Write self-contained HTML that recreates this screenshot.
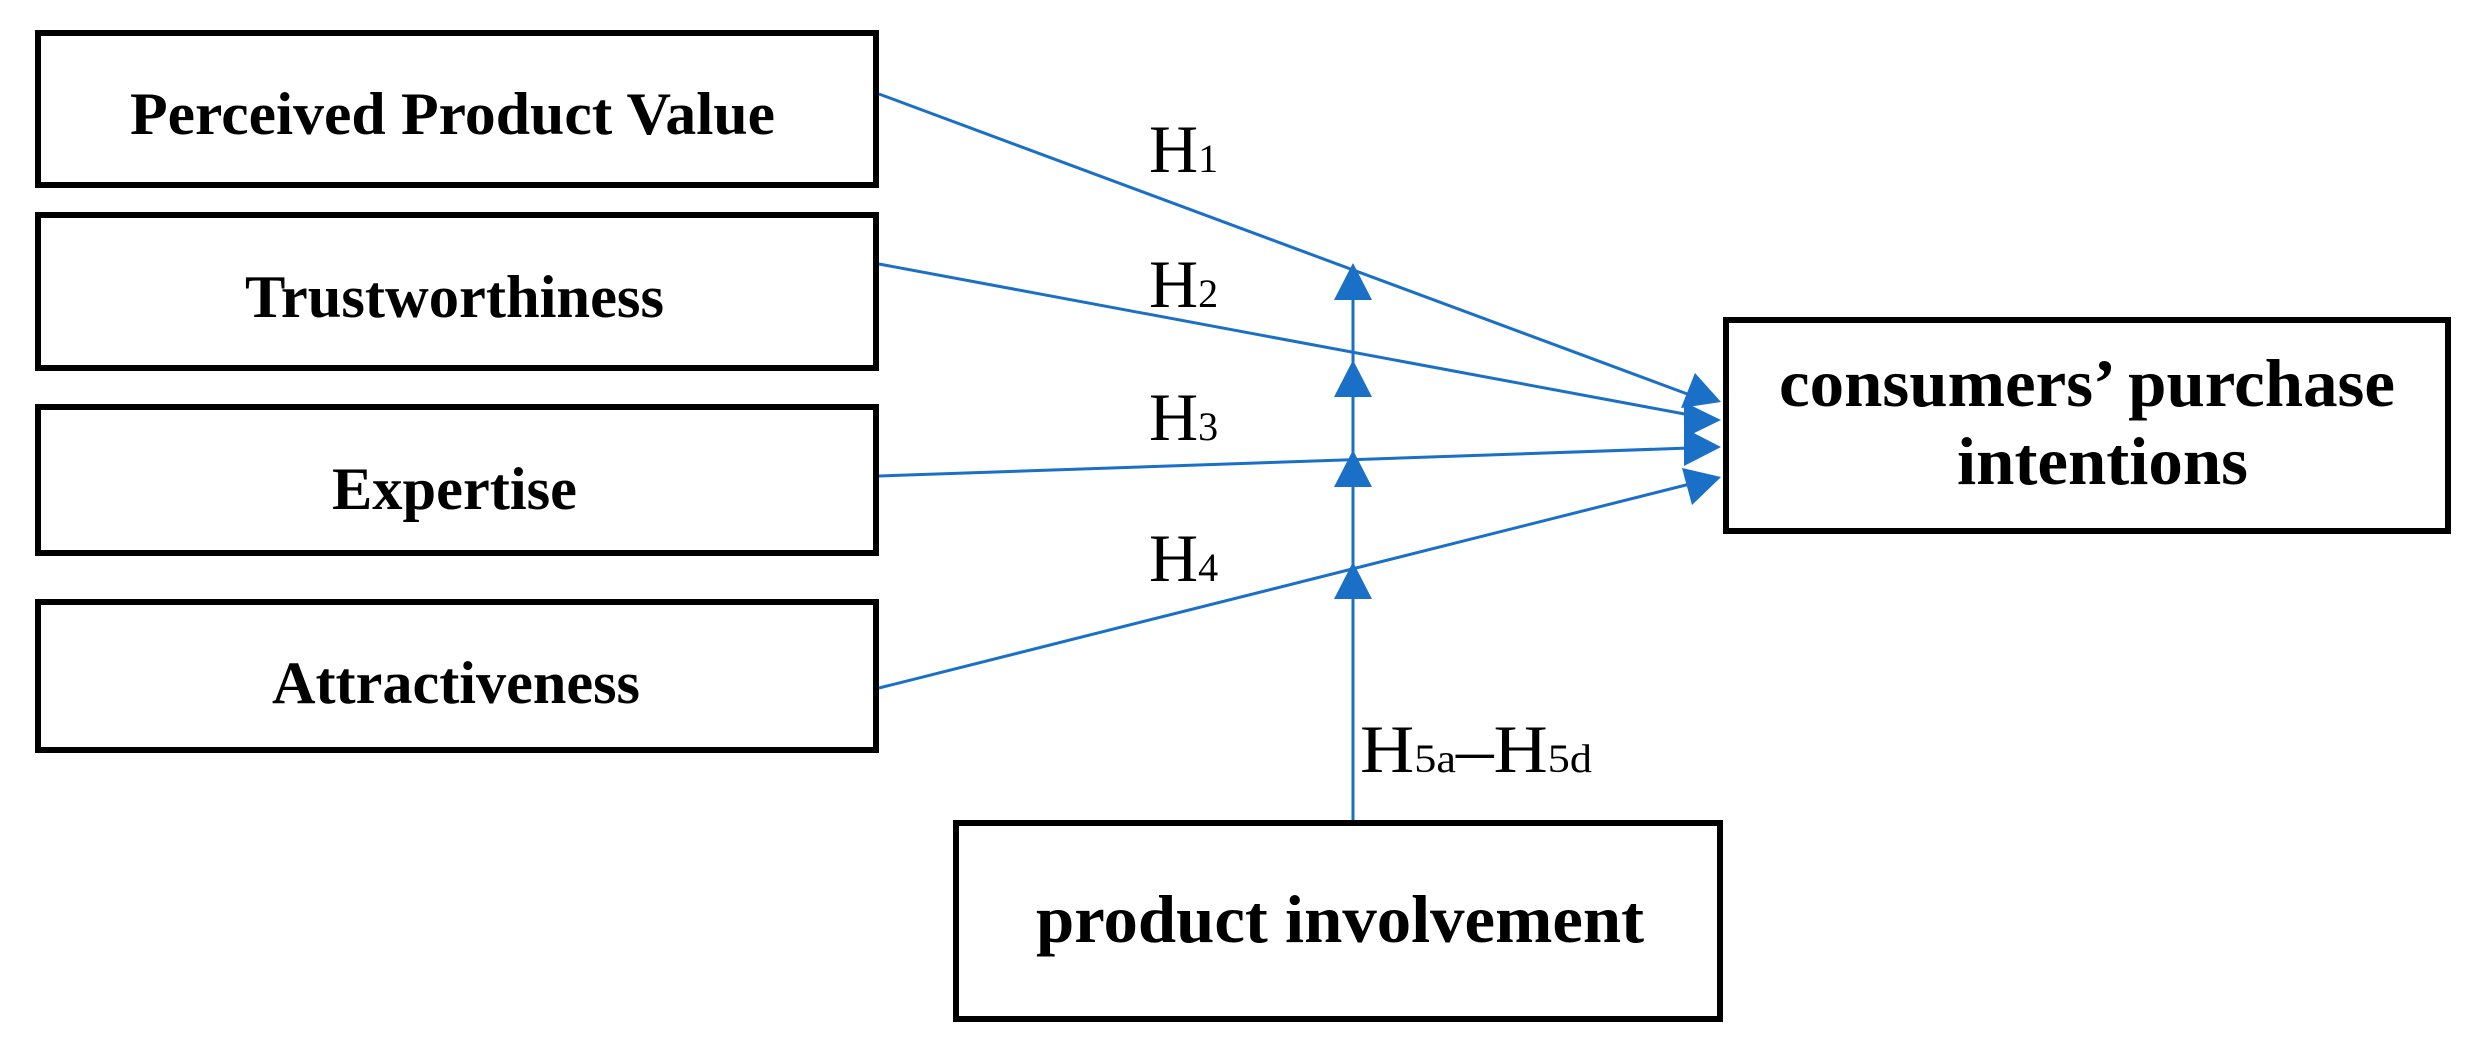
<!DOCTYPE html>
<html><head><meta charset="utf-8"><style>html,body{margin:0;padding:0;background:#fff;}svg{display:block}</style></head>
<body>
<svg width="2479" height="1047" viewBox="0 0 2479 1047" xmlns="http://www.w3.org/2000/svg">
<g fill="none" stroke="#000" stroke-width="6">
<rect x="38" y="33" width="838" height="152"/>
<rect x="38" y="215" width="838" height="153"/>
<rect x="38" y="407" width="838" height="146"/>
<rect x="38" y="602" width="838" height="148"/>
<rect x="1726" y="320" width="722" height="211"/>
<rect x="956" y="823" width="764" height="196"/>
</g>
<g stroke="#1a6fc7" stroke-width="3">
<line x1="879" y1="94" x2="1690" y2="395"/>
<line x1="879" y1="264" x2="1690" y2="415"/>
<line x1="879" y1="476" x2="1690" y2="448"/>
<line x1="879" y1="688" x2="1690" y2="484"/>
<line x1="1353" y1="820" x2="1353" y2="290"/>
</g>
<g fill="#1a6fc7">
<polygon points="1353,263 1334,300 1372,300"/>
<polygon points="1353,360 1334,397 1372,397"/>
<polygon points="1353,450 1334,487 1372,487"/>
<polygon points="1353,562 1334,599 1372,599"/>
<polygon points="1721,402 1695,373 1681,408"/>
<polygon points="1721,420 1684,402 1684,438"/>
<polygon points="1721,447 1684,428 1684,466"/>
<polygon points="1721,477 1682,468 1692,505"/>
</g>
<g font-family="'Liberation Serif',serif" font-weight="bold" fill="#000" font-size="60" lengthAdjust="spacingAndGlyphs">
<text x="130" y="134" textLength="645" lengthAdjust="spacingAndGlyphs">Perceived Product Value</text>
<text x="245" y="317" textLength="419" lengthAdjust="spacingAndGlyphs">Trustworthiness</text>
<text x="332" y="509" textLength="245" lengthAdjust="spacingAndGlyphs">Expertise</text>
<text x="272" y="703" textLength="368" lengthAdjust="spacingAndGlyphs">Attractiveness</text>
<text x="1779" y="406" font-size="68" textLength="616" lengthAdjust="spacingAndGlyphs">consumers’ purchase</text>
<text x="1957" y="484" font-size="68" textLength="291" lengthAdjust="spacingAndGlyphs">intentions</text>
<text x="1036" y="942" font-size="68" textLength="608" lengthAdjust="spacingAndGlyphs">product involvement</text>
</g>
<g font-family="'Liberation Serif',serif" fill="#000" font-size="68">
<text x="1149" y="172">H<tspan font-size="40">1</tspan></text>
<text x="1149" y="307">H<tspan font-size="40">2</tspan></text>
<text x="1149" y="440">H<tspan font-size="40">3</tspan></text>
<text x="1149" y="581">H<tspan font-size="40">4</tspan></text>
<text x="1360" y="772" textLength="232" lengthAdjust="spacingAndGlyphs">H<tspan font-size="40">5a</tspan>–H<tspan font-size="40">5d</tspan></text>
</g>
</svg>
</body></html>
